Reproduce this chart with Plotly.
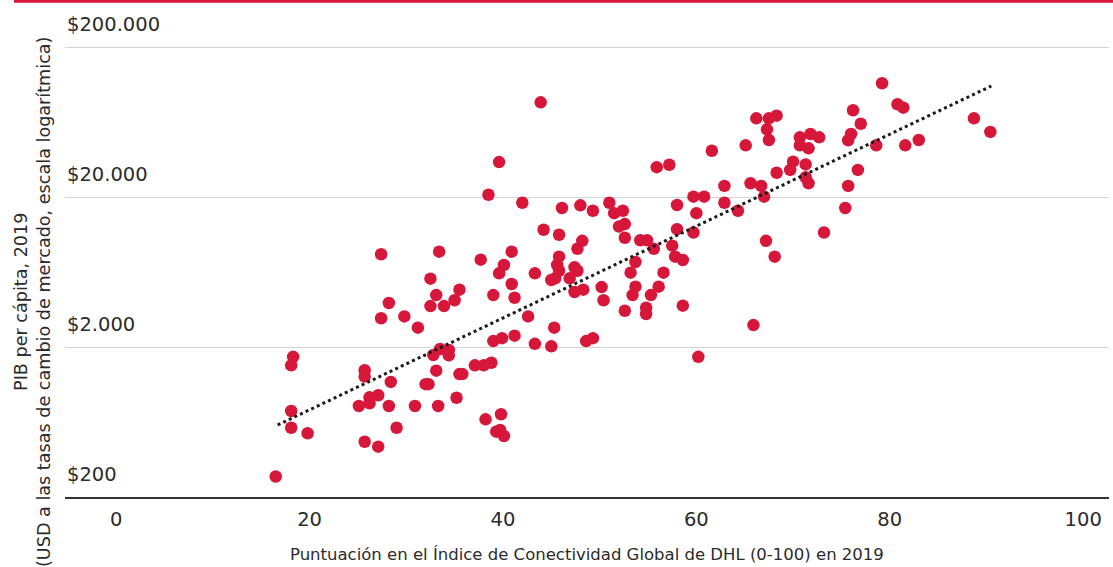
import numpy as np
import plotly.graph_objects as go

# DHL Global Connectedness score (0-100), 2019
score = [43.9, 39.6, 38.5, 42.0, 46.1, 48.0, 49.3, 51.0, 51.5, 52.0,
         44.2, 45.8, 48.2, 47.7, 27.4, 33.4, 37.7, 40.9, 40.1, 39.6,
         45.8, 45.6, 45.8, 45.0, 45.4, 47.4, 47.7, 46.9, 43.3, 40.9,
         32.5, 35.5, 33.1, 32.5, 33.9, 35.0, 28.2, 39.0, 41.2, 47.4,
         48.3, 50.2, 50.4, 42.6, 27.4, 29.8, 31.2, 45.3, 39.0, 39.9,
         41.2, 43.3, 45.0, 48.6, 49.3, 18.3, 18.1, 25.7, 25.7, 28.4,
         32.8, 33.5, 34.4, 34.4, 33.1, 32.0, 32.3, 35.5, 35.8, 37.1,
         38.0, 38.8, 26.2, 27.1, 25.1, 26.2, 28.2, 30.9, 33.3, 35.2,
         18.1, 18.1, 19.8, 29.0, 25.7, 27.1, 38.2, 39.8, 39.3, 39.7,
         40.1, 16.5,
         79.2, 80.8, 81.4, 76.2, 77.0, 76.0, 75.7, 78.6, 81.6, 83.0,
         76.7, 75.7, 75.4, 73.2, 66.2, 67.5, 68.3, 67.3, 67.5, 65.1,
         70.7, 71.8, 72.7, 70.7, 71.6, 61.6, 70.0, 69.7, 71.3, 68.3,
         71.3, 71.6, 55.9, 57.2, 62.9, 65.6, 66.7, 67.0, 62.9, 64.3,
         59.7, 60.8, 58.0, 60.0, 58.0, 59.7, 52.4, 52.6, 52.6, 54.2,
         54.9, 55.6, 57.5, 57.8, 58.6, 53.7, 53.2, 56.6, 53.7, 53.4,
         56.1, 55.3, 52.6, 54.8, 54.8, 58.6, 67.2, 68.1, 65.9, 60.2,
         88.7, 90.4]

# GDP per capita, 2019 (USD at market exchange rates)
gdp = [85500, 34200, 20700, 18300, 16900, 17600, 16200, 18300, 15600, 12700,
       12100, 11200, 10200, 9040, 8300, 8640, 7640, 8640, 7040, 6200,
       8000, 7040, 6450, 5590, 5740, 6800, 6450, 5740, 6200, 5260,
       5710, 4820, 4440, 3750, 3750, 4100, 3930, 4440, 4260, 4650,
       4820, 5020, 4100, 3200, 3110, 3200, 2690, 2690, 2190, 2290,
       2380, 2100, 2020, 2190, 2290, 1720, 1510, 1400, 1270, 1170,
       1770, 1940, 1910, 1760, 1390, 1130, 1130, 1320, 1320, 1510,
       1510, 1570, 924, 953, 809, 843, 809, 809, 809, 918,
       749, 579, 532, 579, 467, 433, 659, 712, 545, 559,
       510, 274,
       114600, 83000, 78800, 75700, 61600, 52600, 47800, 44200, 44200, 48000,
       30300, 23700, 16900, 11600, 66900, 66900, 69700, 56500, 48000, 44200,
       50000, 52600, 50000, 44200, 42200, 40700, 34400, 30300, 33000, 29000,
       27100, 24700, 31600, 32800, 23700, 24700, 23700, 20100, 18300, 16200,
       20100, 20100, 17700, 15600, 12200, 11600, 16200, 13200, 10700, 10300,
       10300, 9040, 9470, 8000, 7600, 7370, 6260, 6260, 5050, 4440,
       5050, 4440, 3490, 3660, 3320, 3770, 10200, 8000, 2800, 1720,
       66900, 54300]

# trend line (log-linear), endpoints
trend_x = [16.7, 90.5]
trend_y = [604, 109900]

x_ticks = [0, 20, 40, 60, 80, 100]
y_ticks = [200, 2000, 20000, 200000]
y_tick_text = ["$200", "$2.000", "$20.000", "$200.000"]

x_title = "Puntuación en el Índice de Conectividad Global de DHL (0-100) en 2019"
y_title = "PIB per cápita, 2019<br>(USD a las tasas de cambio de mercado, escala logarítmica)"

RED = "#D6173A"
INK = "#2b2b2b"
FONT = "DejaVu Sans"

fig = go.Figure()
fig.add_trace(go.Scatter(
    x=score, y=gdp, mode="markers",
    marker=dict(color=RED, size=12.5, line=dict(width=0)),
    hoverinfo="x+y", showlegend=False))
fig.add_trace(go.Scatter(
    x=trend_x, y=trend_y, mode="lines",
    line=dict(color="#1a1a1a", width=3, dash="3px,3.2px"),
    hoverinfo="skip", showlegend=False))

W, H = 1113, 567
ml, mr, mt, mb = 65, 4, 12, 70
plot_w = W - ml - mr
plot_h = H - mt - mb
y_lo = np.log10(200)
y_hi = y_lo + plot_h / 150.0


def px_x(px):
    return (px - ml) / plot_w


def px_y(py):
    return (H - mb - py) / plot_h


annotations = []
for v, t in zip(y_ticks, y_tick_text):
    annotations.append(dict(
        x=0, xref="paper", y=np.log10(v), yref="y", text=t,
        showarrow=False, xanchor="left", yanchor="middle",
        yshift=23, xshift=0,
        font=dict(family=FONT, size=19.5, color=INK)))

annotations.append(dict(
    x=0.5, xref="paper", y=px_y(554), yref="paper",
    text=x_title, showarrow=False, xanchor="center", yanchor="middle",
    font=dict(family=FONT, size=16.5, color=INK)))
annotations.append(dict(
    x=px_x(32), xref="paper", y=px_y(302), yref="paper",
    text=y_title, showarrow=False, xanchor="center", yanchor="middle",
    textangle=-90,
    font=dict(family=FONT, size=17.6, color=INK)))

fig.update_layout(
    width=W, height=H,
    margin=dict(l=ml, r=mr, t=mt, b=mb),
    paper_bgcolor="white", plot_bgcolor="white",
    annotations=annotations,
    shapes=[dict(type="line", xref="paper", yref="paper",
                 x0=px_x(14), x1=px_x(W),
                 y0=px_y(1.2), y1=px_y(1.2),
                 line=dict(color=RED, width=3))],
    xaxis=dict(range=[-5.29, 102.67], tickvals=x_ticks,
               ticktext=[str(v) for v in x_ticks],
               showgrid=False, zeroline=False,
               showline=True, linecolor="#333333", linewidth=2,
               ticks="", ticklabelstandoff=4,
               tickfont=dict(family=FONT, size=19.5, color=INK)),
    yaxis=dict(type="log", range=[y_lo, y_hi], tickvals=y_ticks,
               showticklabels=False, showgrid=True, gridcolor="#d3d3d3",
               gridwidth=1, zeroline=False, showline=False, ticks=""),
)

fig.write_html(
    "out.html",
    config={"displayModeBar": False},
    post_script="document.body.style.margin='0';document.body.style.padding='0';")
